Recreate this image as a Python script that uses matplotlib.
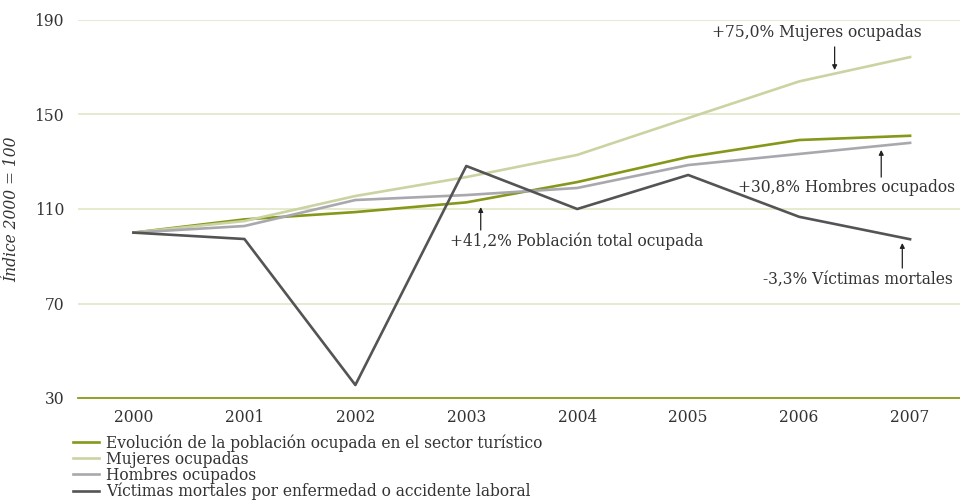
import matplotlib.pyplot as plt

plt.rcParams['font.family'] = ['DejaVu Serif']

# Data (index 2000 = 100)
years = [2000, 2001, 2002, 2003, 2004, 2005, 2006, 2007]
total = [100, 105.6, 108.7, 112.8, 121.4, 132.0, 139.2, 141.0]
mujeres = [100, 104.9, 115.5, 123.5, 132.9, 148.5, 164.0, 174.3]
hombres = [100, 102.8, 113.8, 115.9, 118.9, 128.6, 133.3, 138.0]
victimas = [100, 97.3, 35.5, 128.2, 110.0, 124.4, 106.7, 97.2]

labels = ['Evolución de la población ocupada en el sector turístico',
          'Mujeres ocupadas', 'Hombres ocupados',
          'Víctimas mortales por enfermedad o accidente laboral']
colors = ['#86971a', '#cad4a2', '#a8a8ae', '#545454']
yticks = [30, 70, 110, 150, 190]

fs = 11.2

fig = plt.figure(figsize=(9.6, 5.03), dpi=100)
ax = fig.add_axes([78 / 960, 1 - 398 / 503, 882 / 960, 378 / 503])

for series, lab, col in zip([total, mujeres, hombres, victimas], labels, colors):
    ax.plot(years, series, color=col, lw=1.9, label=lab)

ax.set_xlim(1999.5, 2007.45)
ax.set_ylim(30, 190)
ax.set_yticks(yticks)
ax.set_xticks(years)
ax.yaxis.grid(True, color='#dfe4c0', lw=1.1)
ax.set_axisbelow(True)
for s in ['top', 'right', 'left']:
    ax.spines[s].set_visible(False)
ax.spines['bottom'].set_color('#8a9a1a')
ax.spines['bottom'].set_linewidth(1.3)
ax.tick_params(length=0, labelsize=fs, colors='#333333')
ax.tick_params(axis='y', pad=10)
ax.tick_params(axis='x', pad=8)
ax.set_ylabel('Índice 2000 = 100', style='italic', fontsize=fs,
              color='#333333', labelpad=10)

# annotations
arrow = dict(arrowstyle='-|>', color='#222222', lw=0.9, mutation_scale=7,
             shrinkA=0, shrinkB=0)
txt = dict(fontsize=fs, color='#333333', ha='center', va='center')
ax.annotate('', xy=(2006.32, 168.8), xytext=(2006.32, 178.6), arrowprops=arrow)
ax.text(2006.16, 184.9, '+75,0% Mujeres ocupadas', **txt)
ax.annotate('', xy=(2006.74, 135.0), xytext=(2006.74, 123.5), arrowprops=arrow)
ax.text(2006.43, 119.3, '+30,8% Hombres ocupados', **txt)
ax.annotate('', xy=(2006.93, 95.6), xytext=(2006.93, 85.0), arrowprops=arrow)
ax.text(2006.53, 80.4, '-3,3% Víctimas mortales', **txt)
ax.annotate('', xy=(2003.13, 110.8), xytext=(2003.13, 101.1), arrowprops=arrow)
ax.text(2003.99, 96.5, '+41,2% Población total ocupada', **txt)

fig.legend(loc='upper left', bbox_to_anchor=(73 / 960, 1 - 434 / 503),
           frameon=False, fontsize=fs, handlelength=1.7, handletextpad=0.45,
           labelspacing=-0.06, borderpad=0, borderaxespad=0,
           labelcolor='#333333')

fig.savefig('out.png', dpi=100)
